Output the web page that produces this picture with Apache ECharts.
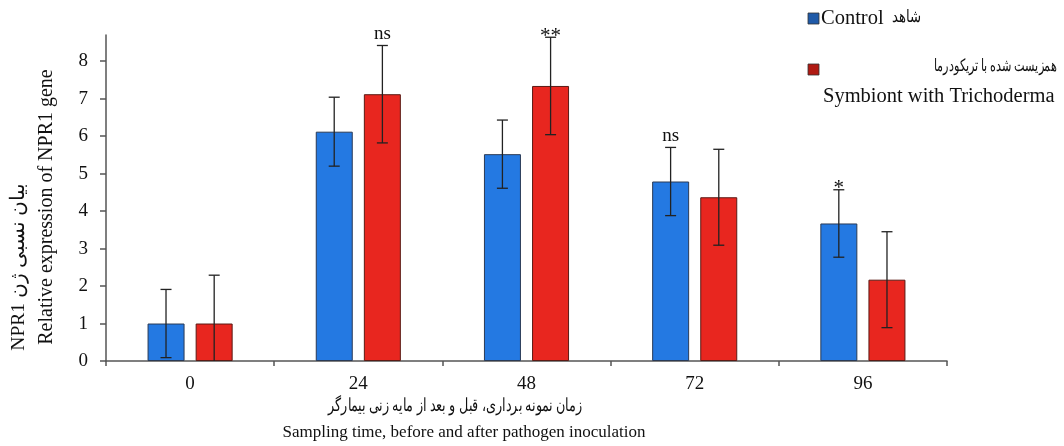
<!DOCTYPE html>
<html><head><meta charset="utf-8">
<script src="https://cdn.jsdelivr.net/npm/echarts@6/dist/echarts.min.js"></script>
<style>html,body{margin:0;padding:0;background:#fff}#c{width:1064px;height:446px}</style>
</head><body><div id="c"></div>
<script>
const categories = ['0', '24', '48', '72', '96'];
const controlValues = [1.0, 6.12, 5.52, 4.79, 3.67];
const controlErr = [0.91, 0.92, 0.91, 0.91, 0.90];
const treatValues = [1.0, 7.12, 7.34, 4.37, 2.17];
const treatErr = [1.29, 1.30, 1.30, 1.28, 1.28];
const controlSig = ['', '', '', 'ns', '*'];
const treatSig = ['', 'ns', '**', '', ''];
const yTicks = [0, 1, 2, 3, 4, 5, 6, 7, 8];
const controlNameEnglish = 'Control';
const controlNamePersian = 'شاهد';
const treatNamePersian = 'همزیست شده با تریکودرما';
const treatNameEnglish = 'Symbiont with Trichoderma';
const yTitleEnglish = 'Relative expression of NPR1 gene';
const yTitlePersian = 'NPR1 بیان نسبی ژن';
const xTitlePersian = 'زمان نمونه برداری، قبل و بعد از مایه زنی بیمارگر';
const xTitleEnglish = 'Sampling time, before and after pathogen inoculation';

const FONT = '"Liberation Serif", "Times New Roman", "DejaVu Serif", serif';
const BLUE = '#2479e2';
const RED = '#e8261f';

function errSeries(name, values, errs, sigs, dir) {
  return {
    type: 'custom',
    name: name + ' err',
    z: 5,
    data: values.map((v, i) => [i, v, errs[i]]),
    renderItem: function (params, api) {
      const i = api.value(0);
      const v = api.value(1);
      const e = api.value(2);
      const sig = sigs[i];
      const band = api.size([1, 0])[0];
      const off = dir * band * 0.1432;
      const c = api.coord([i, v]);
      const x = c[0] + off;
      const top = api.coord([i, v + e])[1];
      const bot = api.coord([i, Math.max(0, v - e)])[1];
      const hw = 5.5;
      const st = { stroke: '#222', lineWidth: 1.3 };
      const children = [
        { type: 'line', shape: { x1: x, y1: top, x2: x, y2: bot }, style: st },
        { type: 'line', shape: { x1: x - hw, y1: top, x2: x + hw, y2: top }, style: st }
      ];
      if (v - e > 0) children.push({ type: 'line', shape: { x1: x - hw, y1: bot, x2: x + hw, y2: bot }, style: st });
      if (sig) {
        const isStar = sig.indexOf('*') >= 0;
        children.push({
          type: 'text',
          style: {
            text: sig, x: x, y: isStar ? top - 1 : top - 11,
            align: 'center', verticalAlign: 'middle',
            font: (isStar ? '21px ' : '19px ') + FONT, fill: '#111'
          }
        });
      }
      return { type: 'group', children: children };
    }
  };
}

const chart = echarts.init(document.getElementById('c'), null, { renderer: 'canvas' });
chart.setOption({
  backgroundColor: '#fff',
  animation: false,
  grid: { left: 106, right: 117, top: 35, bottom: 85 },
  xAxis: {
    type: 'category',
    data: categories,
    axisLine: { lineStyle: { color: '#555', width: 1.5 } },
    axisTick: { show: true, length: 5, lineStyle: { color: '#555', width: 1.5 } },
    axisLabel: { color: '#111', fontFamily: FONT, fontSize: 19, margin: 14 }
  },
  yAxis: {
    type: 'value',
    min: 0, max: 8.7,
    splitLine: { show: false },
    axisLine: { show: true, lineStyle: { color: '#555', width: 1.5 } },
    axisTick: { show: true, length: 6, lineStyle: { color: '#555', width: 1.5 }, customValues: yTicks },
    axisLabel: { color: '#111', fontFamily: FONT, fontSize: 19, margin: 18, customValues: yTicks }
  },
  series: [
    {
      type: 'bar', name: controlNameEnglish + ' ' + controlNamePersian, data: controlValues,
      barWidth: 37, barGap: '30%',
      itemStyle: { color: BLUE, borderColor: '#2a3a55', borderWidth: 1 }
    },
    {
      type: 'bar', name: treatNameEnglish, data: treatValues,
      barWidth: 37, barGap: '30%',
      itemStyle: { color: RED, borderColor: '#5a1a14', borderWidth: 1 }
    },
    errSeries('c', controlValues, controlErr, controlSig, -1),
    errSeries('t', treatValues, treatErr, treatSig, 1)
  ],
  graphic: [
    { type: 'rect', shape: { x: 808, y: 13, width: 11, height: 11 }, style: { fill: '#1f5aa8', stroke: '#333', lineWidth: 0.8 } },
    { type: 'text', style: { x: 821, y: 19, text: controlNameEnglish, font: '20.5px ' + FONT, fill: '#111', verticalAlign: 'middle' } },
    { type: 'text', x: 921, y: 18, scaleX: 0.78, style: { x: 0, y: 0, text: controlNamePersian, font: '17px ' + FONT, fill: '#111', align: 'right', verticalAlign: 'middle' } },
    { type: 'rect', shape: { x: 808, y: 64, width: 11, height: 11 }, style: { fill: '#b01a12', stroke: '#333', lineWidth: 0.8 } },
    { type: 'text', x: 1057, y: 67, scaleX: 0.66, style: { x: 0, y: 0, text: treatNamePersian, font: '16.5px ' + FONT, fill: '#111', align: 'right', verticalAlign: 'middle' } },
    { type: 'text', style: { x: 823, y: 97, text: treatNameEnglish, font: '20.5px ' + FONT, fill: '#111', verticalAlign: 'middle' } },
    { type: 'text', rotation: Math.PI / 2, x: 47, y: 207, style: { x: 0, y: 0, text: yTitleEnglish, font: '20px ' + FONT, fill: '#111', align: 'center', verticalAlign: 'middle' } },
    { type: 'text', rotation: Math.PI / 2, x: 19, y: 267, style: { x: 0, y: 0, text: yTitlePersian, font: '19.5px ' + FONT, fill: '#111', align: 'center', verticalAlign: 'middle' } },
    { type: 'text', x: 455, y: 406, scaleX: 0.71, style: { x: 0, y: 0, text: xTitlePersian, font: '17.5px ' + FONT, fill: '#111', align: 'center', verticalAlign: 'middle' } },
    { type: 'text', style: { x: 464, y: 433, text: xTitleEnglish, font: '17px ' + FONT, fill: '#111', align: 'center', verticalAlign: 'middle' } }
  ]
});
</script>
</body></html>
